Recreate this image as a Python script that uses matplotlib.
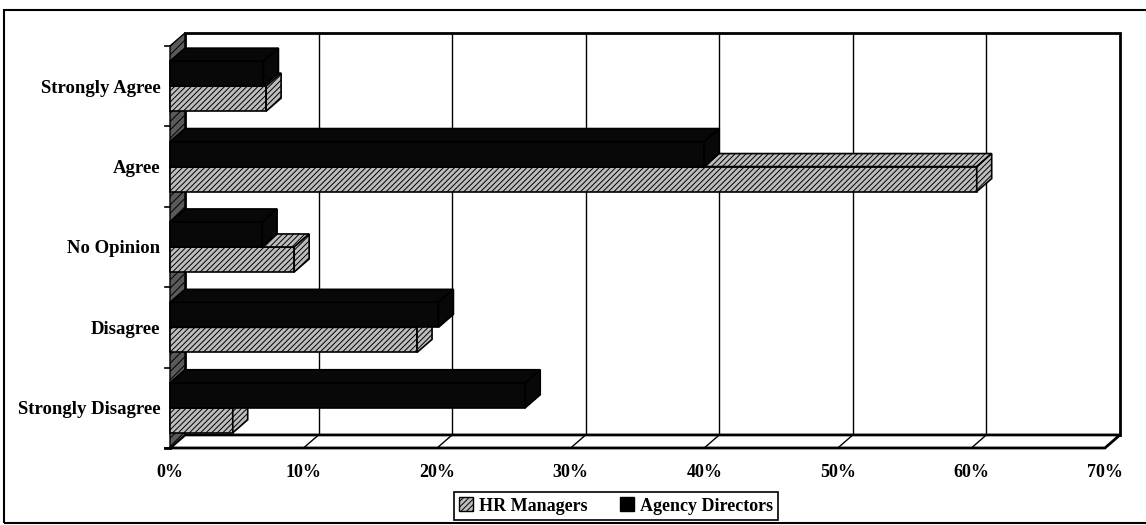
import numpy as np
import matplotlib
matplotlib.use('Agg')
import matplotlib.pyplot as plt
from matplotlib.patches import Polygon, Rectangle, Patch

plt.rcParams['font.family'] = 'serif'
plt.rcParams['font.serif'] = ['Liberation Serif', 'DejaVu Serif']
plt.rcParams['font.weight'] = 'bold'
plt.rcParams['hatch.linewidth'] = 0.7

# survey answers, percent of respondents
categories = ['Strongly Agree', 'Agree', 'No Opinion', 'Disagree', 'Strongly Disagree']
hr_managers = [7.2, 60.4, 9.3, 18.5, 4.7]
agency_directors = [7.0, 40.0, 6.9, 20.1, 26.6]
xticks = [0, 10, 20, 30, 40, 50, 60, 70]
xticklabels = ['0%', '10%', '20%', '30%', '40%', '50%', '60%', '70%']

DX, DY = 1.12, 0.162   # depth of the fake 3d box (x in %, y in category units)
H = 0.311              # bar thickness
XMAX = 70
HR_FACE = '#bdbdbd'

fig = plt.figure(figsize=(11.46, 5.25), dpi=100)
ax = fig.add_axes([0.1425, 0.1314, 0.8450, 0.8193])
ax.set_xlim(-0.5, 72)
ax.set_ylim(5.1, -0.25)
for s in ax.spines.values():
    s.set_visible(False)

# back wall + gridlines
ax.add_patch(Rectangle((DX, -DY), XMAX, 5, facecolor='white', edgecolor='black', lw=2, zorder=1))
for v in xticks[1:-1]:
    ax.plot([v + DX, v + DX], [-DY, 5 - DY], color='black', lw=1, zorder=1.5)

# floor
ax.add_patch(Polygon([(0, 5), (XMAX, 5), (XMAX + DX, 5 - DY), (DX, 5 - DY)],
                     facecolor='white', edgecolor='black', lw=2, zorder=2))
for v in xticks[1:-1]:
    ax.plot([v, v + DX], [5, 5 - DY], color='black', lw=1, zorder=2.5)
ax.plot([-0.4, 0], [5, 5], color='black', lw=2, zorder=2.5)

# left wall
ax.add_patch(Polygon([(0, 0), (DX, -DY), (DX, 5 - DY), (0, 5)],
                     facecolor='#5a5a5a', edgecolor='black', hatch='////', lw=1, zorder=3))
for k in range(6):
    ax.plot([-0.4, 0], [k, k], color='black', lw=1.2, zorder=3)


def bar3d(v, top, face, hatch):
    kw = dict(facecolor=face, edgecolor='black', hatch=hatch, lw=1.2, zorder=4)
    ax.barh(top + H / 2, v, height=H, left=0, **kw)
    ax.add_patch(Polygon([(0, top), (v, top), (v + DX, top - DY), (DX, top - DY)], **kw))
    ax.add_patch(Polygon([(v, top), (v, top + H), (v + DX, top + H - DY), (v + DX, top - DY)], **kw))


for i in range(len(categories)):
    c = i + 0.5
    bar3d(hr_managers[i], c, HR_FACE, '//////')
    bar3d(agency_directors[i], c - H, '#080808', None)

ax.set_xticks(xticks)
ax.set_xticklabels(xticklabels, fontsize=13, fontweight='bold')
ax.set_yticks([i + 0.5 for i in range(len(categories))])
ax.set_yticklabels(categories, fontsize=13.5, fontweight='bold')
ax.tick_params(axis='x', length=0, pad=6)
ax.tick_params(axis='y', length=0, pad=2)

# legend
handles = [Patch(facecolor=HR_FACE, edgecolor='black', hatch='//////'),
           Patch(facecolor='black', edgecolor='black')]
leg = fig.legend(handles, ['HR Managers', 'Agency Directors'], loc='center',
                 bbox_to_anchor=(616 / 1146, 1 - 506 / 525), ncol=2, fancybox=False,
                 framealpha=1, edgecolor='black', handlelength=0.8, handleheight=0.8,
                 handletextpad=0.3, columnspacing=1.8, borderpad=0.3,
                 prop={'size': 13, 'weight': 'bold'})
leg.get_frame().set_linewidth(1.2)

# outer frame
fig.add_artist(Rectangle((0.0035, 0.004), 1.1, 0.977, transform=fig.transFigure,
                         fill=False, edgecolor='black', lw=1.5))

fig.savefig('out.png', dpi=100)
